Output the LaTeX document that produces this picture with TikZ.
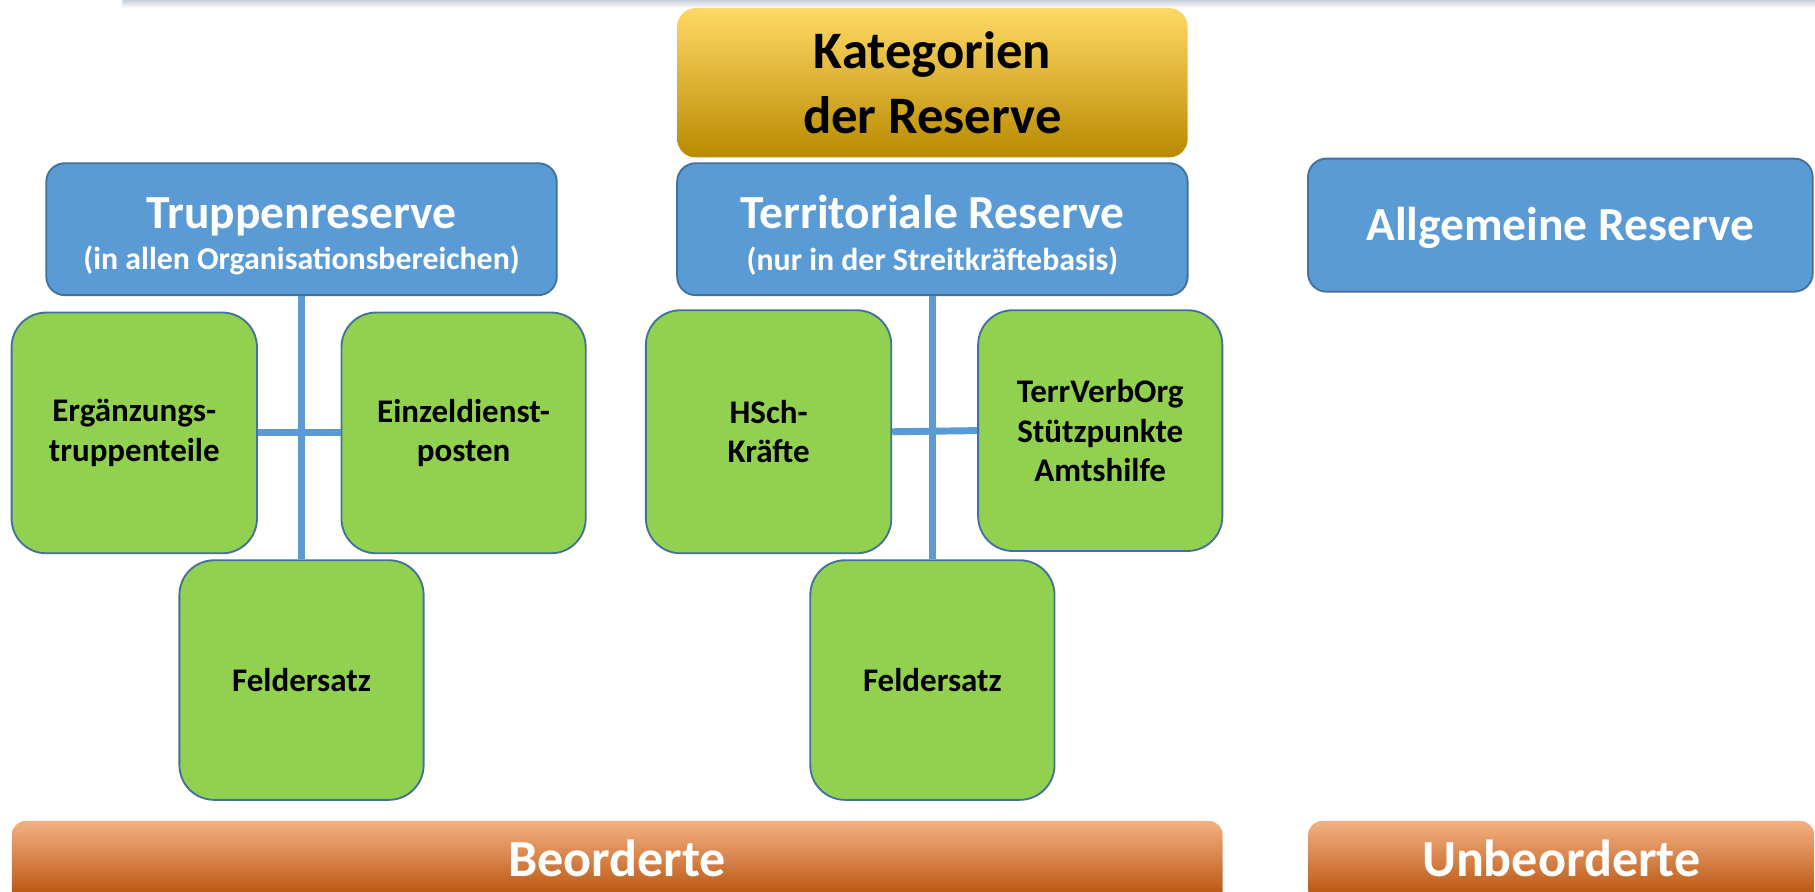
\documentclass[tikz,border=0pt]{standalone}
\usepackage{fontspec}
\setmainfont{Carlito}
\definecolor{bluc}{HTML}{5B9BD5}
\definecolor{bordc}{HTML}{41719C}
\definecolor{grnc}{HTML}{92D050}
\definecolor{goldtop}{HTML}{FFD966}
\definecolor{goldmid}{HTML}{FFC000}
\definecolor{goldbot}{HTML}{B88A00}
\definecolor{ortop}{HTML}{F4B183}
\definecolor{ormid}{HTML}{ED7D31}
\definecolor{orbot}{RGB}{177,73,1}
\definecolor{shadowc}{HTML}{C9D0DA}
\begin{document}
\begin{tikzpicture}[x=1pt,y=-1pt,
  titlebox/.style={rounded corners=16pt, inner sep=0pt, top color=goldtop, middle color=goldmid, bottom color=goldbot, align=center, font=\fontsize{45.5}{56}\selectfont\bfseries, text=black},
  blubox/.style={draw=bordc, fill=bluc, line width=1.6pt, rounded corners=16pt, inner sep=0pt, text=white, align=center, minimum width=441pt, minimum height=114pt, font=\fontsize{27.5}{36}\selectfont\bfseries},
  bighead/.style={font=\fontsize{41}{48}\selectfont\bfseries},
  grnbox/.style={draw=bordc, fill=grnc, line width=1.6pt, rounded corners=30pt, inner sep=0pt, minimum width=211pt, minimum height=208pt, align=center, font=\fontsize{28.5}{34}\selectfont\bfseries, text=black},
  conn/.style={draw=bluc, line width=6pt},
  orbar/.style={rounded corners=12pt, inner sep=0pt, top color=ortop, middle color=ormid, bottom color=orbot, minimum height=73pt, anchor=north west},
  bartxt/.style={text=white, font=\fontsize{45}{54}\selectfont\bfseries, yshift=4pt}
]
\useasboundingbox (0,0) rectangle (1568,770);
\clip (0,0) rectangle (1568,770);

% top shadow strip
\shade[top color=shadowc, bottom color=white] (106,0) rectangle (1568,7);

% title
\node[titlebox, minimum width=441pt, minimum height=129pt] (title) at (805.5,71.5) {Kategorien\\der Reserve};

% blue headers
\node[blubox] (trupp) at (260.5,198) {{\fontsize{41}{36}\selectfont\rule{0pt}{39pt}Truppenreserve}\\(in allen Organisationsbereichen)};
\node[blubox] (terr) at (805.5,198) {{\fontsize{41}{36}\selectfont\rule{0pt}{39pt}Territoriale Reserve}\\(nur in der Streitkräftebasis)};
\node[blubox, bighead, minimum width=436pt, minimum height=115pt, text height=26.4pt, text depth=0pt] (allg) at (1348,194.5) {Allgemeine Reserve};

% green boxes
\node[grnbox, minimum width=212pt] (erg) at (116,374) {Ergänzungs-\\truppenteile};
\node[grnbox] (einz) at (400.5,374) {Einzeldienst-\\posten};
\node[grnbox, minimum height=207pt] (feld1) at (260.5,587.5) {Feldersatz};
\node[grnbox, minimum width=212pt, minimum height=210pt] (hsch) at (664,373) {HSch-\\Kräfte};
\node[grnbox] (terrv) at (950.5,372) {TerrVerbOrg\\Stützpunkte\\Amtshilfe};
\node[grnbox, minimum height=207pt] (feld2) at (805.5,587.5) {Feldersatz};

% connectors
\draw[conn] (trupp.south) -- (feld1.north);
\draw[conn] (erg.east) -- (einz.west);
\draw[conn] (terr.south) -- (feld2.north);
\draw[conn] (hsch.east) -- (terrv.west);

% bottom bars
\node[orbar, minimum width=1046pt, label={[bartxt]center:Beorderte}] (beord) at (10,709) {};
\node[orbar, minimum width=437pt, label={[bartxt]center:Unbeorderte}] (unbeord) at (1130,709) {};
\end{tikzpicture}
\end{document}
